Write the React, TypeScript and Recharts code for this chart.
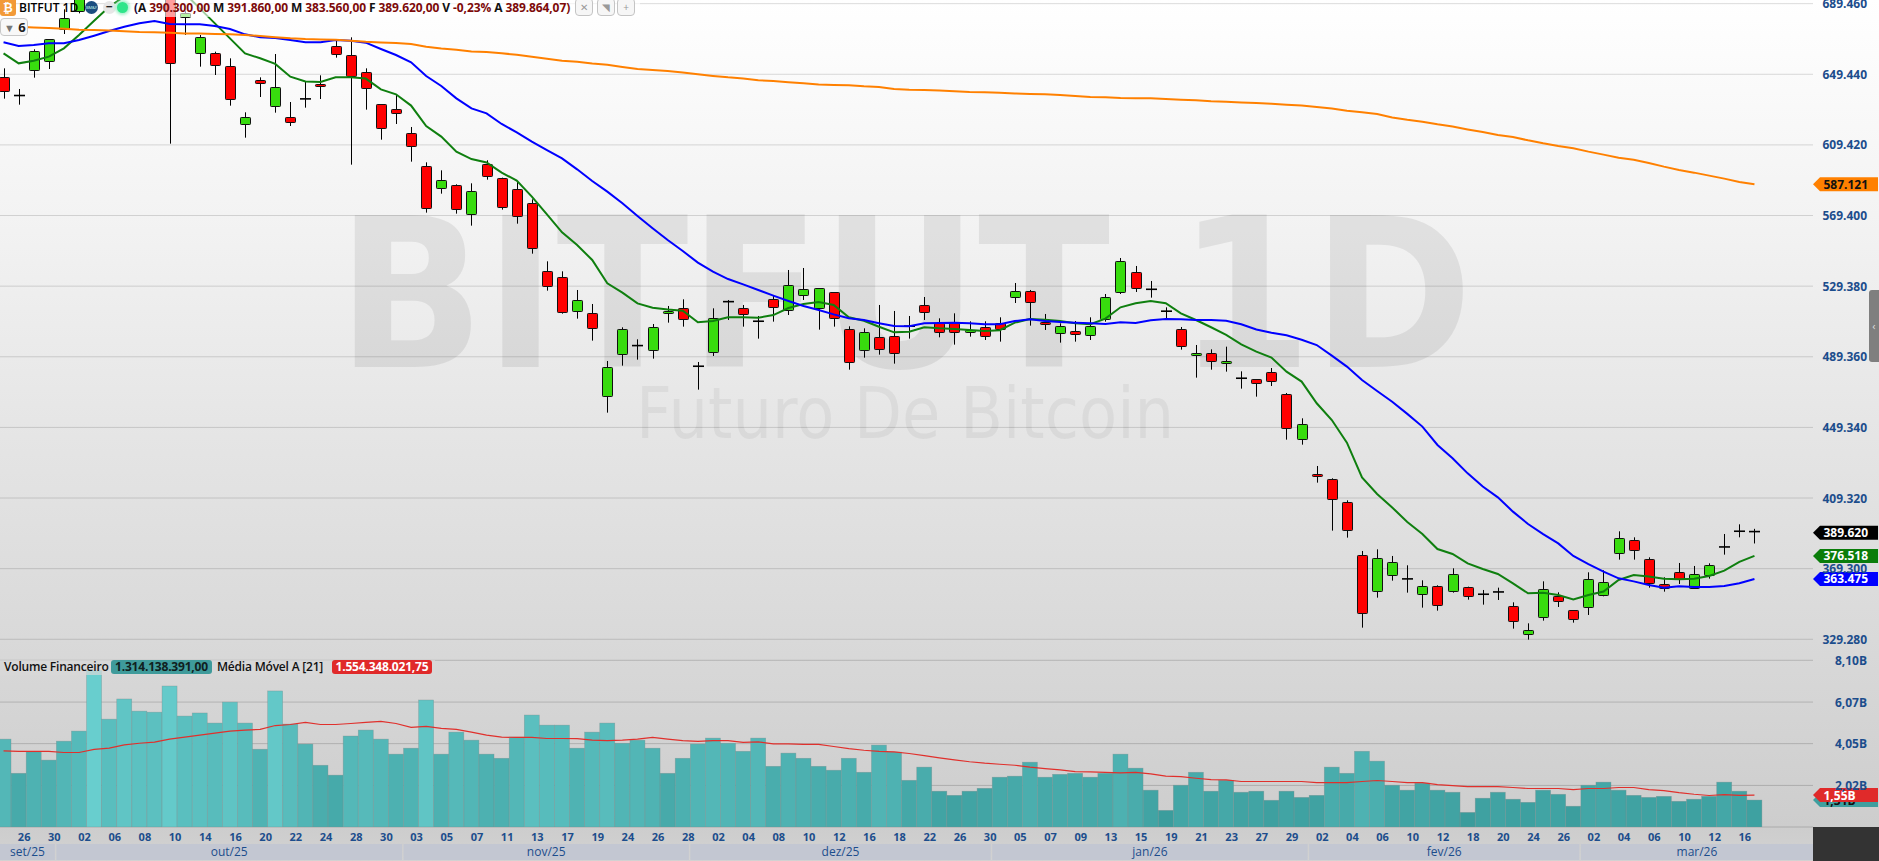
import React from "react";
import {
  Bar,
  CartesianGrid,
  ComposedChart,
  Line,
  ReferenceDot,
  XAxis,
  YAxis,
} from "recharts";

const categories = [
  "25/09/25", "26/09/25", "29/09/25", "30/09/25", "01/10/25", "02/10/25", "03/10/25", "06/10/25", "07/10/25", "08/10/25",
  "09/10/25", "10/10/25", "13/10/25", "14/10/25", "15/10/25", "16/10/25", "17/10/25", "20/10/25", "21/10/25", "22/10/25",
  "23/10/25", "24/10/25", "27/10/25", "28/10/25", "29/10/25", "30/10/25", "31/10/25", "03/11/25", "04/11/25", "05/11/25",
  "06/11/25", "07/11/25", "10/11/25", "11/11/25", "12/11/25", "13/11/25", "14/11/25", "17/11/25", "18/11/25", "19/11/25",
  "21/11/25", "24/11/25", "25/11/25", "26/11/25", "27/11/25", "28/11/25", "01/12/25", "02/12/25", "03/12/25", "04/12/25",
  "05/12/25", "08/12/25", "09/12/25", "10/12/25", "11/12/25", "12/12/25", "15/12/25", "16/12/25", "17/12/25", "18/12/25",
  "19/12/25", "22/12/25", "23/12/25", "26/12/25", "29/12/25", "30/12/25", "02/01/26", "05/01/26", "06/01/26", "07/01/26",
  "08/01/26", "09/01/26", "12/01/26", "13/01/26", "14/01/26", "15/01/26", "16/01/26", "19/01/26", "20/01/26", "21/01/26",
  "22/01/26", "23/01/26", "26/01/26", "27/01/26", "28/01/26", "29/01/26", "30/01/26", "02/02/26", "03/02/26", "04/02/26",
  "05/02/26", "06/02/26", "09/02/26", "10/02/26", "11/02/26", "12/02/26", "13/02/26", "18/02/26", "19/02/26", "20/02/26",
  "23/02/26", "24/02/26", "25/02/26", "26/02/26", "27/02/26", "02/03/26", "03/03/26", "04/03/26", "05/03/26", "06/03/26",
  "09/03/26", "10/03/26", "11/03/26", "12/03/26", "13/03/26", "16/03/26", "17/03/26",
];

const opens = [
  648.09, 637.4, 651.68, 656.78, 674.91, 684.92, 705, 716, 708, 721,
  735, 722, 681.71, 661.88, 661.31, 654.32, 621.65, 646.01, 631.28, 625.42,
  635.5, 643.74, 665.28, 660.55, 650.92, 632.41, 629.58, 616.36, 597.66, 584.81,
  586.51, 570.27, 598.41, 590.48, 584.62, 576.31, 538.16, 534.76, 515.69, 513.98,
  467.14, 490.75, 495.7, 493.02, 513.98, 517.2, 484.0, 491.89, 520.6, 517.2,
  509.5, 522.3, 515.69, 524.75, 517.01, 525.88, 504.92, 493.02, 500.38, 500.95,
  506.7, 518.52, 508.7, 508.7, 503.22, 506.05, 508.7, 523.05, 526.45, 509.26,
  502.65, 503.78, 501.52, 510.58, 525.88, 537.22, 527.6, 515.2, 504.92, 490.75,
  491.32, 485.65, 477.2, 476.58, 480.55, 468.08, 442.58, 422.75, 420.3, 406.89,
  376.86, 356.46, 365.52, 363.5, 354.76, 359.29, 356.27, 358.72, 354.8, 356.1,
  347.96, 332.09, 341.72, 354.0, 345.69, 347.39, 354.0, 377.99, 385.35, 374.59,
  360.42, 367.22, 358.16, 365.52, 381.6, 390.5, 390.3,
];

const closes = [
  640.34, 636.9, 662.44, 669.24, 681.14, 705, 716, 708, 721, 735,
  722, 655.64, 683.97, 670.75, 654.51, 635.81, 625.42, 644.31, 642.04, 622.78,
  635.0, 642.42, 660.74, 648.84, 642.04, 618.81, 627.12, 609.18, 574.05, 589.35,
  572.91, 583.49, 591.8, 574.05, 569.51, 550.82, 529.85, 515.12, 521.73, 505.48,
  483.39, 504.92, 495.2, 506.05, 515.12, 511.15, 483.5, 511.15, 520.2, 513.98,
  509.0, 517.95, 529.85, 527.96, 528.15, 511.15, 486.22, 503.22, 493.58, 491.32,
  506.2, 514.55, 503.78, 503.78, 504.35, 500.95, 505.48, 526.45, 520.22, 508.13,
  506.62, 502.09, 506.62, 523.05, 543.45, 528.15, 527.2, 514.7, 495.29, 491.7,
  486.6, 486.78, 476.7, 474.32, 475.45, 448.82, 451.08, 421.62, 409.15, 391.02,
  344.0, 375.16, 372.89, 363.0, 359.29, 348.52, 366.09, 353.62, 354.3, 355.7,
  339.46, 334.36, 357.59, 351.36, 340.59, 363.26, 361.56, 386.49, 379.69, 360.99,
  358.16, 363.26, 366.09, 371.19, 381.2, 390.1, 389.62,
];

const highs = [
  652.81, 641.1, 663.58, 669.24, 686.24, 712, 722, 730, 726, 740,
  745, 728, 685.3, 671.7, 662.25, 658.48, 627.88, 647.71, 660.93, 633.73,
  645.07, 648.84, 668.49, 670.38, 652.81, 632.41, 637.7, 619.57, 599.55, 595.01,
  587.08, 587.65, 600.68, 590.86, 588.59, 578.58, 543.45, 537.78, 527.2, 519.27,
  486.97, 506.05, 499.25, 507.94, 518.14, 521.92, 486.41, 516.82, 521.54, 518.71,
  512.47, 523.8, 538.54, 539.67, 528.15, 525.88, 506.62, 505.48, 518.71, 515.31,
  512.47, 523.24, 511.15, 513.98, 509.45, 509.45, 511.72, 531.17, 527.21, 513.61,
  508.32, 509.64, 511.72, 524.94, 545.34, 540.81, 532.31, 517.38, 506.24, 496.04,
  493.58, 495.09, 481.12, 476.58, 483.0, 468.84, 454.48, 427.47, 420.49, 408.02,
  379.31, 380.25, 376.48, 371.19, 362.69, 359.86, 369.49, 359.1, 357.21, 358.53,
  350.22, 338.32, 362.12, 355.89, 345.69, 367.22, 368.36, 390.45, 387.05, 375.72,
  364.39, 372.51, 370.81, 372.32, 388.94, 394.42, 391.86,
];

const lows = [
  635.62, 632.22, 647.52, 652.43, 672.26, 683.97, 695, 703, 698, 712,
  716, 610.12, 671.7, 653.75, 649.03, 631.65, 613.52, 636.57, 627.69, 620.13,
  630.52, 635.43, 658.85, 598.22, 629.39, 612.39, 621.27, 599.92, 571.03, 581.79,
  570.46, 563.66, 589.72, 572.73, 564.79, 547.79, 526.83, 513.79, 510.96, 498.5,
  457.7, 484.33, 487.73, 488.3, 508.7, 506.43, 470.73, 489.81, 510.21, 506.43,
  499.63, 509.26, 513.04, 521.54, 504.73, 506.43, 482.06, 488.86, 490.56, 485.46,
  499.63, 510.21, 500.38, 496.23, 500.76, 498.87, 497.93, 519.84, 507.0, 504.54,
  497.36, 497.93, 498.87, 509.26, 524.94, 526.07, 522.86, 511.15, 493.4, 477.53,
  482.06, 480.93, 471.3, 466.76, 472.8, 442.4, 439.56, 418.03, 390.83, 386.87,
  335.87, 352.87, 362.5, 355.7, 347.2, 345.5, 355.7, 351.73, 348.9, 351.54,
  335.3, 329.07, 339.83, 347.58, 338.7, 343.05, 353.62, 374.4, 374.4, 358.53,
  356.27, 360.61, 357.97, 363.64, 377.23, 387.05, 383.56,
];

const fastAverage = [
  661.31, 655.64, 657.15, 659.42, 664.14, 671.7, 679.82, 687.75, 693.4, 699,
  703, 702, 695.3, 686.8, 678.3, 669.8, 661.3, 658.5, 655.3, 648.1,
  645.4, 645.1, 647.7, 647.7, 647.0, 640.9, 638.1, 631.7, 620.1, 614.1,
  605.6, 601.4, 599.5, 593.7, 589.2, 580.1, 570.1, 559.9, 552.7, 544.2,
  531.0, 525.7, 519.6, 517.2, 516.2, 515.5, 508.9, 509.6, 511.7, 511.7,
  511.5, 513.0, 517.0, 519.3, 520.4, 518.7, 511.7, 509.8, 506.4, 503.2,
  503.6, 506.1, 505.5, 505.1, 504.5, 504.0, 504.4, 508.7, 510.8, 510.4,
  509.6, 508.3, 507.8, 511.0, 517.4, 519.7, 521.0, 519.7, 514.0, 510.2,
  506.1, 501.8, 496.4, 492.3, 488.9, 480.9, 475.3, 463.0, 453.5, 440.7,
  421.0, 411.6, 404.0, 395.7, 388.9, 380.4, 377.6, 372.3, 369.1, 366.3,
  361.0, 355.3, 355.7, 354.4, 351.9, 354.4, 356.3, 362.9, 365.7, 364.8,
  363.6, 363.3, 363.6, 365.1, 368.2, 373.1, 376.52,
];

const midAverage = [
  667.54, 665.47, 666.03, 666.98, 666.98, 668.87, 671.32, 673.97, 676.42, 678.31,
  679.63, 677.93, 677.74, 677.74, 676.8, 675.1, 672.08, 670.38, 670.0, 668.87,
  667.54, 667.54, 668.87, 668.49, 667.35, 663.77, 660.37, 656.21, 648.47, 642.8,
  635.81, 630.14, 627.31, 621.27, 616.55, 611.26, 606.53, 601.81, 595.58, 588.97,
  582.92, 576.31, 569.14, 562.2, 555.5, 549.3, 542.7, 537.6, 533.4, 530.4,
  527.2, 524.0, 521.0, 518.1, 515.9, 513.4, 511.2, 510.2, 508.3, 506.8,
  506.6, 508.3, 508.5, 508.7, 508.3, 507.8, 507.8, 509.6, 510.6, 509.6,
  509.1, 508.7, 508.3, 508.0, 508.9, 508.5, 510.0, 510.8, 510.6, 510.2,
  510.2, 509.8, 507.8, 504.8, 503.0, 501.5, 499.0, 496.0, 490.0, 483.8,
  476.2, 470.0, 463.9, 457.0, 449.8, 439.4, 431.8, 423.3, 415.8, 409.7,
  401.6, 394.6, 388.9, 383.6, 376.5, 371.9, 367.6, 363.8, 362.1, 360.0,
  358.5, 359.3, 358.9, 358.9, 359.5, 361.0, 363.47,
];

const slowAverage = [
  676.8, 676.4, 676.0, 675.7, 675.3, 674.7, 674.5, 674.2, 673.8, 673.4,
  673.2, 673.0, 672.6, 672.5, 672.3, 672.1, 671.7, 671.1, 670.4, 669.8,
  669.4, 669.2, 669.0, 668.5, 667.9, 667.5, 667.2, 666.6, 665.1, 664.1,
  663.4, 662.4, 662.1, 661.3, 660.5, 659.4, 658.3, 657.1, 656.6, 655.6,
  654.9, 653.6, 652.4, 651.9, 651.3, 650.4, 649.4, 648.5, 647.7, 647.1,
  646.0, 645.6, 644.9, 644.3, 643.7, 643.4, 643.2, 642.6, 642.2, 641.1,
  640.7, 640.5, 640.3, 639.8, 639.4, 639.2, 639.0, 638.6, 638.3, 638.1,
  637.7, 637.1, 636.6, 636.4, 636.0, 635.8, 635.8, 635.4, 635.0, 634.7,
  634.1, 633.9, 633.5, 633.2, 632.8, 632.2, 631.7, 630.9, 630.0, 628.8,
  627.9, 626.9, 625.0, 623.7, 622.6, 621.1, 619.8, 618.2, 616.7, 615.0,
  613.9, 612.0, 610.3, 608.8, 607.5, 605.6, 603.9, 602.2, 601.0, 599.2,
  597.1, 595.2, 593.7, 592.0, 590.3, 588.4, 587.12,
];

const volumes = [
  4.27, 2.61, 3.65, 3.25, 4.17, 4.66, 7.6, 5.24, 6.22, 5.63,
  5.58, 6.85, 5.39, 5.54, 5.05, 6.07, 5.05, 3.78, 6.61, 5.0,
  4.03, 3.0, 2.52, 4.42, 4.71, 4.27, 3.54, 3.83, 6.17, 3.54,
  4.61, 4.22, 3.54, 3.34, 4.37, 5.44, 4.95, 4.95, 3.83, 4.61,
  5.05, 4.07, 4.22, 3.83, 2.61, 3.34, 4.03, 4.32, 4.07, 3.68,
  4.32, 2.95, 3.59, 3.34, 2.95, 2.76, 3.34, 2.66, 3.98, 3.64,
  2.27, 2.91, 1.74, 1.54, 1.74, 1.88, 2.42, 2.47, 3.15, 2.42,
  2.56, 2.61, 2.42, 2.61, 3.54, 2.86, 1.79, 0.81, 2.03, 2.66,
  1.74, 2.27, 1.69, 1.74, 1.3, 1.74, 1.44, 1.54, 2.91, 2.61,
  3.68, 3.2, 2.03, 1.79, 2.13, 1.79, 1.69, 0.71, 1.4, 1.69,
  1.35, 1.2, 1.79, 1.59, 1.01, 2.03, 2.18, 1.79, 1.54, 1.44,
  1.49, 1.25, 1.35, 1.49, 2.18, 1.74, 1.31,
];

const volumeAverage = [
  3.7, 3.67, 3.67, 3.67, 3.62, 3.62, 3.77, 3.83, 3.99, 4.07,
  4.12, 4.27, 4.37, 4.46, 4.56, 4.66, 4.71, 4.74, 4.93, 4.98,
  5.08, 4.98, 4.98, 5.03, 5.08, 5.13, 5.03, 4.84, 4.89, 4.79,
  4.74, 4.61, 4.46, 4.37, 4.35, 4.35, 4.3, 4.3, 4.29, 4.22,
  4.2, 4.22, 4.27, 4.35, 4.27, 4.2, 4.16, 4.2, 4.2, 4.11,
  4.14, 4.04, 4.04, 4.01, 4.01, 3.91, 3.81, 3.73, 3.67, 3.65,
  3.57, 3.47, 3.36, 3.26, 3.17, 3.1, 3.05, 3.0, 2.91, 2.84,
  2.78, 2.69, 2.68, 2.65, 2.63, 2.65, 2.58, 2.47, 2.45, 2.37,
  2.3, 2.29, 2.21, 2.21, 2.21, 2.21, 2.21, 2.16, 2.16, 2.16,
  2.21, 2.26, 2.21, 2.16, 2.16, 2.06, 2.01, 1.96, 1.96, 1.96,
  1.92, 1.87, 1.87, 1.87, 1.82, 1.87, 1.87, 1.92, 1.92, 1.82,
  1.77, 1.67, 1.59, 1.53, 1.57, 1.54, 1.55,
];

const priceTicks = [329.28, 369.3, 409.32, 449.34, 489.36, 529.38, 569.4, 609.42, 649.44, 689.46];
const volumeTicks = [0, 2.02, 4.05, 6.07, 8.1];
const monthNames: Record<string, string> = {
  "09/25": "set/25", "10/25": "out/25", "11/25": "nov/25", "12/25": "dez/25",
  "01/26": "jan/26", "02/26": "fev/26", "03/26": "mar/26",
};

const rows = categories.map((category, i) => ({
  category,
  open: opens[i],
  close: closes[i],
  high: highs[i],
  low: lows[i],
  fast: fastAverage[i],
  mid: midAverage[i],
  slow: slowAverage[i],
  volume: volumes[i],
  volumeAvg: volumeAverage[i],
}));

const LAST = categories[categories.length - 1];
const PLOT_RIGHT = 1813;
const LEFT_MARGIN = -4;
const RIGHT_PAD = 51;
const BAND = (PLOT_RIGHT - LEFT_MARGIN - RIGHT_PAD) / categories.length;
const AXIS_FONT = "'Open Sans', sans-serif";
const AXIS_COLOR = "#1c4d8c";

function Candle(props: any) {
  const { x, y, width, height, payload } = props;
  const perUnit = height / (payload.high - payload.low);
  const cx = Math.round(x + width / 2) + 0.5;
  const top = y + (payload.high - Math.max(payload.open, payload.close)) * perUnit;
  const bottom = y + (payload.high - Math.min(payload.open, payload.close)) * perUnit;
  const rising = payload.close >= payload.open;
  const bodyH = bottom - top;
  return (
    <g>
      <line x1={cx} x2={cx} y1={y} y2={y + height} stroke="#000" strokeWidth={1} />
      {bodyH < 1.3 ? (
        <line x1={cx - 5.5} x2={cx + 5.5} y1={top} y2={top} stroke="#000" strokeWidth={1.6} />
      ) : (
        <rect
          x={cx - 5}
          y={Math.round(top) + 0.5}
          width={10}
          height={Math.max(Math.round(bodyH), 2)}
          rx={0.8}
          fill={rising ? "#38dc0e" : "#ff0000"}
          stroke="#111"
          strokeWidth={1}
        />
      )}
    </g>
  );
}

// taller bars are drawn in a lighter teal, as on the platform
function volumeFill(value: number) {
  const t = Math.min(Math.max((value - 0.7) / 6.7, 0), 1);
  const r = Math.round(58 + t * 46);
  const g = Math.round(156 + t * 50);
  return `rgb(${r},${g},${g})`;
}

function VolumeBar(props: any) {
  const { x, y, width, height, payload } = props;
  return (
    <rect
      x={x}
      y={y}
      width={width}
      height={height}
      fill={volumeFill(payload.volume)}
      stroke="rgba(120,140,140,0.55)"
      strokeWidth={0.6}
    />
  );
}

function AxisValue({ y, label }: { y: number; label: string }) {
  return (
    <text
      x={1867}
      y={y + 4.5}
      textAnchor="end"
      fontFamily={AXIS_FONT}
      fontSize={12}
      fontWeight={700}
      fill={AXIS_COLOR}
    >
      {label}
    </text>
  );
}

function PriceTick(props: any) {
  return <AxisValue y={props.y} label={Number(props.payload.value).toFixed(3)} />;
}

function VolumeTick(props: any) {
  if (props.payload.value === 0) return <g />;
  return <AxisValue y={props.y} label={Number(props.payload.value).toFixed(2).replace(".", ",") + "B"} />;
}

function monthOf(category: string) {
  return category.slice(3);
}

function TimeTick(props: any) {
  const { x, payload, index } = props;
  const category: string = payload.value;
  const month = monthOf(category);
  const isFirst = index === 0 || monthOf(categories[index - 1]) !== month;
  const count = categories.filter((c) => monthOf(c) === month).length;
  const left = x - BAND / 2;
  const isLastMonth = month === monthOf(LAST);
  const right = isLastMonth ? PLOT_RIGHT : left + count * BAND - 1.5;
  return (
    <g>
      {index % 2 === 1 && (
        <text
          x={x + 5.5}
          y={191}
          textAnchor="middle"
          fontFamily={AXIS_FONT}
          fontSize={11}
          fontWeight={700}
          fill={AXIS_COLOR}
        >
          {category.slice(0, 2)}
        </text>
      )}
      {isFirst && (
        <g>
          <rect x={left} y={194} width={right - left} height={16} fill="#c3c7d2" />
          <text
            x={(Math.max(left, 0) + right) / 2}
            y={206}
            textAnchor="middle"
            fontFamily={AXIS_FONT}
            fontSize={12}
            fill={AXIS_COLOR}
          >
            {monthNames[month]}
          </text>
        </g>
      )}
    </g>
  );
}

function ValueTag(props: any) {
  const { cy, label, fill, color } = props;
  const l = PLOT_RIGHT;
  const h = 7;
  return (
    <g>
      <polygon
        points={`${l},${cy} ${l + 7},${cy - h} 1878,${cy - h} 1878,${cy + h} ${l + 7},${cy + h}`}
        fill={fill}
      />
      <text
        x={1823.5}
        y={cy + 4.5}
        fontFamily={AXIS_FONT}
        fontSize={12}
        fontWeight={700}
        fill={color}
      >
        {label}
      </text>
    </g>
  );
}

function Pill({ left, width, bg, color, text }: any) {
  return (
    <div
      style={{
        position: "absolute",
        left,
        top: 660,
        width,
        height: 14,
        lineHeight: "14px",
        background: bg,
        color,
        borderRadius: 3,
        textAlign: "center",
        fontWeight: 700,
      }}
    >
      {text}
    </div>
  );
}

function Header() {
  const parts = [
    ["A", "390.300,00"],
    ["M", "391.860,00"],
    ["M", "383.560,00"],
    ["F", "389.620,00"],
    ["V", "-0,23%"],
    ["A", "389.864,07"],
  ];
  return (
    <div style={{ position: "absolute", left: 0, top: 0, fontFamily: "'Open Sans', sans-serif", fontSize: 12, whiteSpace: "nowrap" }}>
      <div style={{ position: "absolute", left: 130, top: 0, width: 510, height: 17, background: "rgba(255,255,255,0.62)" }} />
      <div style={{ position: "absolute", left: 0, top: 0, width: 16, height: 16, background: "#f29a38", borderRadius: "0 0 3px 3px", color: "#fff", fontWeight: 700, textAlign: "center", lineHeight: "16px" }}>₿</div>
      <div style={{ position: "absolute", left: 19, top: 0, lineHeight: "16px", color: "#000", fontWeight: 600 }}>BITFUT 1D</div>
      <div style={{ position: "absolute", left: 85, top: 1, width: 13, height: 13, borderRadius: 7, background: "#1a4d80", color: "#cfe", fontSize: 4, lineHeight: "13px", textAlign: "center" }}>BM&F</div>
      <div style={{ position: "absolute", left: 103, top: 1, width: 13, height: 13, borderRadius: 7, background: "#e6e6e6", color: "#222", fontWeight: 700, lineHeight: "12px", textAlign: "center" }}>−</div>
      <div style={{ position: "absolute", left: 117, top: 2, width: 11, height: 11, borderRadius: 6, background: "#2fe58a", boxShadow: "0 0 3px 2px #a8f0cc" }} />
      <div style={{ position: "absolute", left: 134, top: 0, lineHeight: "16px", fontWeight: 700, letterSpacing: -0.1 }}>
        <span style={{ color: "#1a0a3a" }}>(</span>
        {parts.map(([k, v], i) => (
          <span key={i}>
            <span style={{ color: "#111" }}>{k} </span>
            <span style={{ color: "#7d0a0a" }}>{v}</span>
            {i < parts.length - 1 ? " " : ""}
          </span>
        ))}
        <span style={{ color: "#7d0a0a" }}>)</span>
      </div>
      {[
        [575, "✕"],
        [597, "◥"],
        [617, "+"],
      ].map(([x, t]) => (
        <div
          key={x as number}
          style={{ position: "absolute", left: x as number, top: -2, width: 16, height: 16, border: "1px solid #c4c4c4", borderRadius: 4, color: "#999", fontSize: 10, lineHeight: "16px", textAlign: "center", background: "#f6f6f6" }}
        >
          {t}
        </div>
      ))}
      <div style={{ position: "absolute", left: 0, top: 18, width: 26, height: 16, border: "1px solid #c8c8c8", borderRadius: 4, background: "#f8f8f8", lineHeight: "16px", fontSize: 13, fontWeight: 700, color: "#222" }}>
        <span style={{ color: "#777", fontSize: 11, marginLeft: 3 }}>▼</span> 6
      </div>
    </div>
  );
}

function Watermarks() {
  return (
    <svg width={1879} height={650} style={{ position: "absolute", left: 0, top: 0 }}>
      <text
        x={337}
        y={367}
        fontFamily="'DejaVu Sans', sans-serif"
        fontWeight={700}
        fontSize={208}
        textLength={1136}
        lengthAdjust="spacingAndGlyphs"
        fill="#000"
        fillOpacity={0.075}
      >
        BITFUT 1D
      </text>
      <text
        x={636}
        y={438}
        fontFamily="'DejaVu Sans', sans-serif"
        fontSize={71}
        textLength={538}
        lengthAdjust="spacingAndGlyphs"
        fill="#000"
        fillOpacity={0.05}
      >
        Futuro De Bitcoin
      </text>
    </svg>
  );
}

export default function App() {
  return (
    <div
      style={{
        position: "absolute",
        left: 0,
        top: 0,
        width: 1879,
        height: 861,
        overflow: "hidden",
        background:
          "linear-gradient(to bottom, #ffffff 0px, #f3f3f3 215px, #e6e6e6 420px, #d9d9d9 640px, #cdcdcd 827px, #d2d2d2 861px)",
      }}
    >
      <Watermarks />

      <div style={{ position: "absolute", left: 0, top: 0 }}>
        <ComposedChart
          width={1879}
          height={650}
          data={rows}
          margin={{ top: 0, right: 0, bottom: 0, left: LEFT_MARGIN }}
        >
          <CartesianGrid horizontal vertical={false} stroke="rgba(0,0,0,0.14)" syncWithTicks />
          <XAxis dataKey="category" hide padding={{ left: 0, right: RIGHT_PAD }} />
          <YAxis
            orientation="right"
            width={66}
            domain={[323.2, 691.53]}
            allowDataOverflow
            ticks={priceTicks}
            interval={0}
            axisLine={false}
            tickLine={false}
            tick={PriceTick}
          />
          <Bar
            dataKey={(d: any) => [d.low, d.high]}
            barSize={11}
            shape={Candle}
            isAnimationActive={false}
          />
          <Line dataKey="fast" stroke="#0f7f0f" strokeWidth={2} dot={false} isAnimationActive={false} />
          <Line dataKey="mid" stroke="#0000ff" strokeWidth={2} dot={false} isAnimationActive={false} />
          <Line dataKey="slow" stroke="#ff8000" strokeWidth={2} dot={false} isAnimationActive={false} />
          <ReferenceDot x={LAST} y={slowAverage[116]} r={0} shape={(p: any) => <ValueTag cy={p.cy} label="587.121" fill="#ff8000" color="#111" />} />
          <ReferenceDot x={LAST} y={closes[116]} r={0} shape={(p: any) => <ValueTag cy={p.cy} label="389.620" fill="#000" color="#fff" />} />
          <ReferenceDot x={LAST} y={fastAverage[116]} r={0} shape={(p: any) => <ValueTag cy={p.cy} label="376.518" fill="#0a7d0a" color="#fff" />} />
          <ReferenceDot x={LAST} y={midAverage[116]} r={0} shape={(p: any) => <ValueTag cy={p.cy} label="363.475" fill="#0000ff" color="#fff" />} />
        </ComposedChart>
      </div>

      <div style={{ position: "absolute", left: 0, top: 650 }}>
        <ComposedChart
          width={1879}
          height={211}
          data={rows}
          barCategoryGap={0}
          margin={{ top: 0, right: 0, bottom: 0, left: LEFT_MARGIN }}
        >
          <CartesianGrid horizontal vertical={false} stroke="rgba(0,0,0,0.17)" syncWithTicks />
          <XAxis
            dataKey="category"
            height={34}
            interval={0}
            padding={{ left: 0, right: RIGHT_PAD }}
            axisLine={false}
            tickLine={false}
            tick={TimeTick}
          />
          <YAxis
            orientation="right"
            width={66}
            domain={[0, 8.6]}
            allowDataOverflow
            ticks={volumeTicks}
            interval={0}
            axisLine={false}
            tickLine={false}
            tick={VolumeTick}
          />
          <Bar dataKey="volume" shape={VolumeBar} isAnimationActive={false} />
          <Line dataKey="volumeAvg" stroke="#e0302c" strokeWidth={1.2} dot={false} isAnimationActive={false} />
          <ReferenceDot x={LAST} y={volumes[116]} r={0} shape={(p: any) => <ValueTag cy={p.cy} label="1,31B" fill="#3f9f9f" color="#111" />} />
          <ReferenceDot x={LAST} y={volumeAverage[116]} r={0} shape={(p: any) => <ValueTag cy={p.cy} label="1,55B" fill="#e02a2a" color="#fff" />} />
        </ComposedChart>
      </div>

      <Header />

      <div style={{ position: "absolute", left: 0, top: 660, width: 435, height: 15, background: "rgba(216,216,216,0.7)" }} />
      <div style={{ fontFamily: "'Open Sans', sans-serif", fontSize: 12, letterSpacing: -0.2, whiteSpace: "nowrap" }}>
        <div style={{ position: "absolute", left: 4, top: 660, lineHeight: "14px", color: "#111", fontWeight: 600 }}>Volume Financeiro</div>
        <Pill left={111} width={101} bg="#3f9b9b" color="#102020" text="1.314.138.391,00" />
        <div style={{ position: "absolute", left: 217, top: 660, lineHeight: "14px", color: "#111", fontWeight: 600 }}>Média Móvel A [21]</div>
        <Pill left={332} width={100} bg="#e02a2a" color="#fff" text="1.554.348.021,75" />
      </div>

      <div style={{ position: "absolute", left: 1813, top: 827, width: 66, height: 34, background: "#333" }} />
      <div style={{ position: "absolute", left: 1869, top: 290, width: 10, height: 72, background: "#7f7f7f", borderRadius: "3px 0 0 3px", color: "#ddd", fontFamily: AXIS_FONT, fontSize: 11, lineHeight: "72px", textAlign: "center" }}>‹</div>
    </div>
  );
}
